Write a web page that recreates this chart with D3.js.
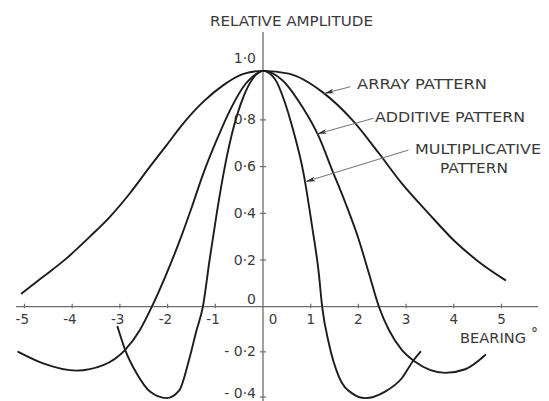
<!DOCTYPE html>
<html>
<head>
<meta charset="utf-8">
<script src="https://cdn.jsdelivr.net/npm/d3@7"></script>
<style>
  html, body { margin: 0; padding: 0; background: #fff; }
  svg { display: block; }
  text { font-family: "DejaVu Sans", sans-serif; fill: #3a3a3a; }
</style>
</head>
<body>
<svg id="chart" width="549" height="401"></svg>
<script>
// Bearing (degrees) vs relative amplitude for three beam patterns
const arrayPattern = [
  [-5.06, 0.057], [-4.61, 0.128], [-4.12, 0.207], [-3.63, 0.300], [-3.21, 0.385],
  [-2.79, 0.486], [-2.37, 0.600], [-2.02, 0.692], [-1.67, 0.785], [-1.25, 0.878],
  [-0.83, 0.949], [-0.41, 0.997], [0, 1.01], [0.54, 0.998], [1.24, 0.92],
  [1.87, 0.80], [2.43, 0.657], [2.91, 0.528], [3.47, 0.40], [4.03, 0.278],
  [4.52, 0.193], [5.08, 0.114]
];
const additivePattern = [
  [-5.13, -0.20], [-4.61, -0.251], [-3.91, -0.283], [-3.35, -0.259], [-2.89, -0.191],
  [-2.58, -0.103], [-2.33, 0], [-2.02, 0.143], [-1.74, 0.286], [-1.49, 0.428],
  [-1.25, 0.571], [-0.97, 0.714], [-0.69, 0.842], [-0.41, 0.942], [-0.13, 0.998],
  [0, 1.01], [0.40, 0.971], [0.82, 0.857], [1.17, 0.728], [1.45, 0.585],
  [1.73, 0.443], [2.01, 0.286], [2.22, 0.143], [2.43, 0], [2.64, -0.103],
  [2.91, -0.191], [3.19, -0.244], [3.82, -0.293], [4.24, -0.277], [4.66, -0.214]
];
const multiplicativePattern = [
  [-3.05, -0.089], [-2.89, -0.191], [-2.65, -0.295], [-2.37, -0.376], [-2.02, -0.405],
  [-1.76, -0.372], [-1.55, -0.235], [-1.40, -0.11], [-1.26, 0], [-1.12, 0.2],
  [-0.97, 0.40], [-0.80, 0.60], [-0.62, 0.765], [-0.41, 0.899], [-0.22, 0.975],
  [0, 1.01], [0.25, 0.975], [0.45, 0.88], [0.62, 0.765], [0.85, 0.571], [1.03, 0.343],
  [1.17, 0.143], [1.24, 0], [1.38, -0.162], [1.59, -0.31], [1.87, -0.384],
  [2.14, -0.405], [2.56, -0.376], [2.91, -0.317], [3.16, -0.236], [3.30, -0.20]
];

const xTicks = [-5, -4, -3, -2, -1, 0, 1, 2, 3, 4, 5];
const xTickLabels = ["-5", "-4", "-3", "-2", "-1", "0", "1", "2", "3", "4", "5"];
const yTicks = [1.0, 0.8, 0.6, 0.4, 0.2, 0, -0.2, -0.4];
const yTickLabels = ["1·0", "0·8", "0·6", "0·4", "0·2", "0", "- 0·2", "- 0·4"];

// Pattern names with the [bearing, amplitude] of each pointer's tail and tip
const patternNames = ["ARRAY PATTERN", "ADDITIVE PATTERN", "MULTIPLICATIVE"];
const pointerTails = [[1.83, 0.942], [2.32, 0.807], [3.05, 0.671]];
const pointerTips = [[1.28, 0.913], [1.13, 0.74], [0.89, 0.535]];

const svg = d3.select("#chart");

const x = d3.scaleLinear().domain([-5, 5]).range([24.5, 501.5]);
const y = d3.scaleLinear().domain([-0.4, 0, 1]).range([397, 306.7, 73.2]);

const axisColor = "#6e6e6e";
const g = svg.append("g");

// Horizontal (bearing) axis
g.append("line")
  .attr("x1", x(-5.18)).attr("x2", x(5.77))
  .attr("y1", y(0)).attr("y2", y(0))
  .attr("stroke", axisColor).attr("stroke-width", 1.3);
g.selectAll(".xtick").data(xTicks.filter(d => d !== 0)).join("line")
  .attr("x1", d => x(d)).attr("x2", d => x(d))
  .attr("y1", y(0) - 3).attr("y2", y(0) + 1.5)
  .attr("stroke", axisColor).attr("stroke-width", 1.2);
g.selectAll(".xlabel").data(xTicks).join("text")
  .attr("x", d => d === 0 ? x(d) + 10 : (d < 0 ? x(d) + 4.5 : x(d)))
  .attr("y", y(0) + 17)
  .attr("text-anchor", d => d < 0 ? "end" : "middle")
  .attr("font-size", 13.5)
  .text((d, i) => xTickLabels[i]);

// Vertical (amplitude) axis
g.append("line")
  .attr("x1", x(0)).attr("x2", x(0))
  .attr("y1", y(-0.42)).attr("y2", 32)
  .attr("stroke", axisColor).attr("stroke-width", 1.3);
g.selectAll(".ytick").data(yTicks.filter(d => d !== 0 && d !== 1)).join("line")
  .attr("x1", x(0) - 3).attr("x2", x(0) + 3)
  .attr("y1", d => y(d)).attr("y2", d => y(d))
  .attr("stroke", axisColor).attr("stroke-width", 1.2);
g.selectAll(".ylabel").data(yTicks).join("text")
  .attr("x", x(0) - 7)
  .attr("y", d => d === 1 ? y(d) - 10 : (d === 0 ? y(d) - 3 : Math.min(y(d) + 4.5, 397.5)))
  .attr("text-anchor", "end")
  .attr("font-size", 14)
  .text((d, i) => yTickLabels[i]);

// Axis titles
svg.append("text")
  .attr("x", 210).attr("y", 26)
  .attr("font-size", 14.5)
  .attr("textLength", 163).attr("lengthAdjust", "spacingAndGlyphs")
  .text("RELATIVE AMPLITUDE");
svg.append("text")
  .attr("x", 460).attr("y", 343)
  .attr("font-size", 14.5)
  .attr("textLength", 66).attr("lengthAdjust", "spacingAndGlyphs")
  .text("BEARING");
svg.append("text")
  .attr("x", 531).attr("y", 338)
  .attr("font-size", 14)
  .text("°");

// Pattern curves
const line = d3.line()
  .x(d => x(d[0]))
  .y(d => y(d[1]))
  .curve(d3.curveMonotoneX);

const curves = [arrayPattern, additivePattern, multiplicativePattern];
svg.append("g").selectAll("path").data(curves).join("path")
  .attr("d", line)
  .attr("fill", "none")
  .attr("stroke", "#1c1c1c")
  .attr("stroke-width", 1.9)
  .attr("stroke-linejoin", "round")
  .attr("stroke-linecap", "round");

// Pointers from each name to its curve
svg.append("defs").append("marker")
  .attr("id", "arrowhead")
  .attr("viewBox", "0 0 10 6")
  .attr("refX", 10).attr("refY", 3)
  .attr("markerWidth", 10).attr("markerHeight", 6)
  .attr("markerUnits", "userSpaceOnUse")
  .attr("orient", "auto")
  .append("path")
  .attr("d", "M0,0.6 L10,3 L0,5.4 L2.5,3 Z")
  .attr("fill", "#333");

svg.append("g").selectAll("line").data(pointerTails).join("line")
  .attr("x1", d => x(d[0])).attr("y1", d => y(d[1]))
  .attr("x2", (d, i) => x(pointerTips[i][0])).attr("y2", (d, i) => y(pointerTips[i][1]))
  .attr("stroke", "#7a7a7a").attr("stroke-width", 1.1)
  .attr("marker-end", "url(#arrowhead)");

const nameX = [357, 375, 415];
const nameY = [89, 122, 154];
const nameLen = [130, 150, 126];
svg.append("g").selectAll("text").data(patternNames).join("text")
  .attr("x", (d, i) => nameX[i]).attr("y", (d, i) => nameY[i])
  .attr("font-size", 14.5)
  .attr("textLength", (d, i) => nameLen[i]).attr("lengthAdjust", "spacingAndGlyphs")
  .text(d => d);
svg.append("text")
  .attr("x", 440).attr("y", 173)
  .attr("font-size", 14.5)
  .attr("textLength", 68).attr("lengthAdjust", "spacingAndGlyphs")
  .text("PATTERN");
</script>
</body>
</html>
